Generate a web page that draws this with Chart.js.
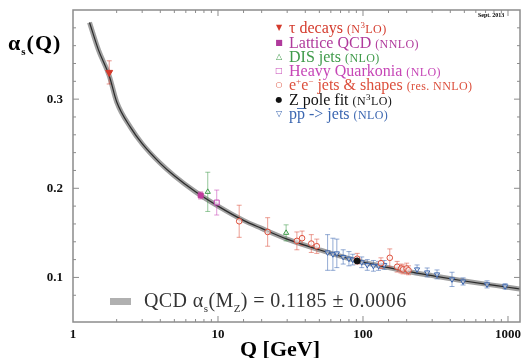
<!DOCTYPE html>
<html>
<head>
<meta charset="utf-8">
<script src="https://cdn.jsdelivr.net/npm/chart.js@4.4.0/dist/chart.umd.min.js"></script>
<style>
  html, body { margin: 0; padding: 0; background: #fff; }
  #wrap { position: relative; width: 525px; height: 358px; overflow: hidden; }
  #wrap canvas { position: absolute; left: 0; top: 0; }
  .lbl { position: absolute; white-space: nowrap; font-family: "Liberation Serif", "DejaVu Serif", serif; pointer-events: none; line-height: 1; }
  .leg { font-size: 16px; }
  .leg small { font-size: 12px; letter-spacing: 0.4px; }
  .leg sup { font-size: 9px; }
  .mk { display: inline-block; width: 12px; font-family: "DejaVu Sans", sans-serif; font-size: 8px; text-align: center; vertical-align: 3px; }
</style>
</head>
<body>
<div id="wrap">
  <canvas id="chart" width="525" height="358"></canvas>
  <div class="lbl" style="left:8px; top:32px; font-size:22px; font-weight:bold; letter-spacing:1px;">&alpha;<sub style="font-size:11px;">s</sub>(Q)</div>
  <div class="lbl" style="left:240px; top:338px; font-size:22px; font-weight:bold;">Q [GeV]</div>
  <div class="lbl" style="left:478px; top:12px; font-size:6px; font-weight:bold;">Sept. 2013</div>
  <div class="lbl leg" style="left:273px; top:20px; color:#d43a2c;"><span class="mk">&#9660;</span> &tau; decays <small>(N<sup>3</sup>LO)</small></div>
  <div class="lbl leg" style="left:273px; top:35px; color:#b03a9c;"><span class="mk">&#9632;</span> Lattice QCD <small>(NNLO)</small></div>
  <div class="lbl leg" style="left:273px; top:49px; color:#3f9a4a;"><span class="mk">&#9651;</span> DIS jets <small>(NLO)</small></div>
  <div class="lbl leg" style="left:273px; top:63px; color:#c646b6;"><span class="mk">&#9633;</span> Heavy Quarkonia <small>(NLO)</small></div>
  <div class="lbl leg" style="left:273px; top:77px; color:#dc4f3c;"><span class="mk">&#9675;</span> e<sup>+</sup>e<sup>&minus;</sup> jets &amp; shapes <small>(res. NNLO)</small></div>
  <div class="lbl leg" style="left:273px; top:92px; color:#111;"><span class="mk">&#9679;</span> Z pole fit <small>(N<sup>3</sup>LO)</small></div>
  <div class="lbl leg" style="left:273px; top:106px; color:#3b66b0;"><span class="mk">&#9661;</span> pp&#773; -&gt; jets <small>(NLO)</small></div>
  <div style="position:absolute; left:110px; top:298px; width:21px; height:7px; background:#b0b0b0;"></div>
  <div class="lbl" style="left:144px; top:290px; font-size:20px; letter-spacing:0.4px; color:#333;">QCD &alpha;<sub style="font-size:11px;">s</sub>(M<sub style="font-size:11px;">Z</sub>) = 0.1185 &plusmn; 0.0006</div>
</div>
<script>
// QCD running coupling band
const qcdQ = [1.3, 1.5, 1.78, 2, 2.5, 3, 4, 5, 7, 10, 15, 20, 30, 50, 91.2, 150, 200, 300, 500, 700, 1000, 1210];
const qcdAlpha = [0.386, 0.355, 0.326, 0.297, 0.268, 0.250, 0.228, 0.214, 0.196, 0.180, 0.164, 0.155, 0.143, 0.131, 0.1185, 0.111, 0.107, 0.102, 0.096, 0.0925, 0.089, 0.087];

// Measurements
const tauQ = [1.777];
const tauAlpha = [0.330];
const tauErr = [0.013];

const latticeQ = [7.6];
const latticeAlpha = [0.192];
const latticeErr = [0.004];

const disQ = [8.5, 29.5];
const disAlpha = [0.196, 0.150];
const disErr = [0.022, 0.009];

const quarkoniaQ = [9.8];
const quarkoniaAlpha = [0.184];
const quarkoniaErr = [0.014];

const eeQ = [14, 22, 35, 38, 44, 48, 91.2, 133, 153, 172, 183, 189, 200, 206];
const eeAlpha = [0.163, 0.151, 0.141, 0.144, 0.138, 0.135, 0.121, 0.116, 0.122, 0.112, 0.110, 0.109, 0.110, 0.108];
const eeErr = [0.018, 0.016, 0.010, 0.008, 0.010, 0.008, 0.006, 0.006, 0.010, 0.006, 0.005, 0.005, 0.006, 0.005];

const zQ = [91.2];
const zAlpha = [0.1185];
const zErr = [0.003];

const ppQ = [57, 62, 66, 73, 80, 85, 98, 107, 118, 128, 140, 236, 277, 324, 411, 490, 717, 955];
const ppAlpha = [0.128, 0.126, 0.127, 0.123, 0.121, 0.120, 0.117, 0.114, 0.113, 0.113, 0.114, 0.109, 0.1056, 0.1034, 0.0978, 0.0955, 0.0922, 0.090];
const ppErr = [0.020, 0.018, 0.016, 0.008, 0.008, 0.006, 0.006, 0.006, 0.006, 0.005, 0.005, 0.005, 0.005, 0.005, 0.008, 0.004, 0.004, 0.003];

const xTicks = [1, 10, 100, 1000];
const yTicks = [0.1, 0.2, 0.3];

const toPoints = (xs, ys) => xs.map((x, i) => ({ x: x, y: ys[i] }));

function measurement(label, xs, ys, errs, color, style, filled, radius, rotation) {
  return {
    label: label,
    data: toPoints(xs, ys),
    errors: errs,
    errColor: color,
    pointStyle: style,
    rotation: rotation || 0,
    pointRadius: radius,
    pointBorderWidth: 1,
    borderColor: color,
    backgroundColor: filled ? color : "rgba(255,255,255,0.6)",
    showLine: false,
  };
}

const FONT = "'Liberation Serif', 'DejaVu Serif', serif";

// inward ticks + frame
const framePlugin = {
  id: "frame",
  afterDraw(chart) {
    const { ctx, chartArea: a, scales } = chart;
    ctx.save();
    ctx.strokeStyle = "#8c8c8c";
    ctx.lineWidth = 1.5;
    ctx.strokeRect(a.left, a.top, a.right - a.left, a.bottom - a.top);
    ctx.lineWidth = 1;
    ctx.beginPath();
    scales.x.ticks.forEach((t) => {
      const px = scales.x.getPixelForValue(t.value);
      if (px <= a.left + 1 || px >= a.right - 1) return;
      const len = xTicks.includes(t.value) ? 6 : 3;
      ctx.moveTo(px, a.bottom);
      ctx.lineTo(px, a.bottom - len);
      ctx.moveTo(px, a.top);
      ctx.lineTo(px, a.top + len);
    });
    scales.y.ticks.forEach((t) => {
      const py = scales.y.getPixelForValue(t.value);
      if (py <= a.top + 1 || py >= a.bottom - 1) return;
      const major = yTicks.some((v) => Math.abs(v - t.value) < 1e-6);
      const len = major ? 6 : 3;
      ctx.moveTo(a.left, py);
      ctx.lineTo(a.left + len, py);
      ctx.moveTo(a.right, py);
      ctx.lineTo(a.right - len, py);
    });
    ctx.stroke();
    ctx.restore();
  },
};

// error bars, drawn right after the curve so markers sit on top
const errorBarPlugin = {
  id: "errorBars",
  afterDatasetDraw(chart, args) {
    if (args.index !== chart.data.datasets.length - 1) return;
    const { ctx, scales } = chart;
    ctx.save();
    ctx.lineWidth = 1;
    chart.data.datasets.forEach((ds) => {
      if (!ds.errors) return;
      ctx.strokeStyle = ds.errColor;
      ctx.globalAlpha = 0.55;
      ds.data.forEach((p, i) => {
        const e = ds.errors[i];
        const px = scales.x.getPixelForValue(p.x);
        const y1 = scales.y.getPixelForValue(p.y - e);
        const y2 = scales.y.getPixelForValue(p.y + e);
        ctx.beginPath();
        ctx.moveTo(px, y1);
        ctx.lineTo(px, y2);
        ctx.moveTo(px - 2.5, y1);
        ctx.lineTo(px + 2.5, y1);
        ctx.moveTo(px - 2.5, y2);
        ctx.lineTo(px + 2.5, y2);
        ctx.stroke();
      });
    });
    ctx.restore();
  },
};

const ctx = document.getElementById("chart");
new Chart(ctx, {
  type: "scatter",
  data: {
    datasets: [
      measurement("Z pole fit", zQ, zAlpha, zErr, "#111111", "circle", true, 3),
      measurement("tau decays", tauQ, tauAlpha, tauErr, "#d43a2c", "triangle", true, 4, 180),
      measurement("Lattice QCD", latticeQ, latticeAlpha, latticeErr, "#c03a9c", "rect", true, 3.5),
      measurement("DIS jets", disQ, disAlpha, disErr, "#3f9a4a", "triangle", false, 3),
      measurement("Heavy Quarkonia", quarkoniaQ, quarkoniaAlpha, quarkoniaErr, "#c646b6", "rect", false, 3.5),
      measurement("ee jets", eeQ, eeAlpha, eeErr, "#dc4f3c", "circle", false, 2.8),
      measurement("ppbar jets", ppQ, ppAlpha, ppErr, "#3b66b0", "triangle", false, 3, 180),
      {
        label: "QCD line",
        data: toPoints(qcdQ, qcdAlpha),
        showLine: true,
        borderColor: "#2a2a2a",
        borderWidth: 1.2,
        pointRadius: 0,
        cubicInterpolationMode: "monotone",
      },
      {
        label: "QCD band",
        data: toPoints(qcdQ, qcdAlpha),
        showLine: true,
        borderColor: "#a0a0a0",
        borderWidth: 5,
        pointRadius: 0,
        cubicInterpolationMode: "monotone",
      },
    ],
  },
  options: {
    responsive: false,
    animation: false,
    layout: { padding: { top: 10, right: 5, left: 0, bottom: 0 } },
    plugins: { legend: { display: false }, tooltip: { enabled: false } },
    scales: {
      x: {
        type: "logarithmic",
        min: 1,
        max: 1210,
        grid: { display: false, drawTicks: false },
        border: { display: false },
        afterFit: (s) => { s.height = 36; s.paddingLeft = 0; s.paddingRight = 0; },
        ticks: {
          autoSkip: false,
          maxRotation: 0,
          padding: 5,
          color: "#111",
          font: { family: FONT, size: 13, weight: "bold" },
          callback: (v) => (xTicks.includes(v) ? String(v) : ""),
        },
      },
      y: {
        min: 0.05,
        max: 0.4,
        grid: { display: false, drawTicks: false },
        border: { display: false },
        afterFit: (s) => { s.width = 73; s.paddingTop = 0; s.paddingBottom = 0; },
        ticks: {
          autoSkip: false,
          stepSize: 0.02,
          padding: 10,
          color: "#111",
          font: { family: FONT, size: 13, weight: "bold" },
          callback: (v) => {
            const hit = yTicks.find((t) => Math.abs(t - v) < 1e-6);
            return hit !== undefined ? hit.toFixed(1) : "";
          },
        },
      },
    },
  },
  plugins: [errorBarPlugin, framePlugin],
});
</script>
</body>
</html>
